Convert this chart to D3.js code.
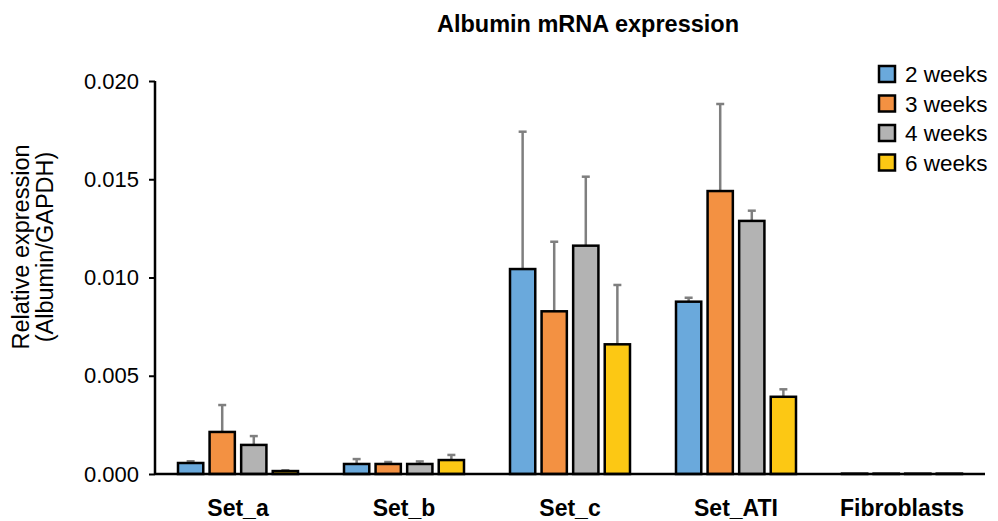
<!DOCTYPE html>
<html>
<head>
<meta charset="utf-8">
<script src="https://cdn.jsdelivr.net/npm/d3@7"></script>
<style>
  body { margin: 0; background: #fff; }
  text { font-family: "Liberation Sans", Arial, sans-serif; }
</style>
</head>
<body>
<svg id="chart" width="998" height="521"></svg>
<script>
// chart data
const groups = ['Set_a', 'Set_b', 'Set_c', 'Set_ATI', 'Fibroblasts']
const series = ['2 weeks', '3 weeks', '4 weeks', '6 weeks']
const colors = ['#6aa9dc', '#f39142', '#b3b3b3', '#fcc814']
const means = [
  [0.00056, 0.00214, 0.00148, 0.00015],
  [0.00051, 0.00051, 0.00051, 0.00071],
  [0.01043, 0.00828, 0.01162, 0.0066],
  [0.00877, 0.0144, 0.01288, 0.00393],
  [0.00002, 0.00002, 0.00002, 0.00002]
]
const errors = [
  [0.00009, 0.00137, 0.00045, 0.00004],
  [0.00025, 0.0001, 0.00013, 0.00026],
  [0.00699, 0.00354, 0.00351, 0.00302],
  [0.0002, 0.00443, 0.00052, 0.00038],
  [0, 0, 0, 0]
]
const yTicks = [0, 0.005, 0.01, 0.015, 0.02]

const svg = d3.select('#chart')
const mLeft = 155, mRight = 985, mTop = 81, mBottom = 474
const font = '"Liberation Sans", Arial, sans-serif'

const x0 = d3.scaleBand().domain(groups).range([mLeft, mRight])
const x1 = d3.scaleBand().domain(series).range([0, 120]).paddingInner(0.2)
const y = d3.scaleLinear().domain([0, 0.02]).range([mBottom, mTop])

// title
svg.append('text')
  .attr('x', 588).attr('y', 32)
  .attr('text-anchor', 'middle')
  .attr('font-size', 23.5).attr('font-weight', 'bold')
  .text('Albumin mRNA expression')

// y axis
const yAxis = svg.append('g')
  .attr('transform', `translate(${mLeft},0)`)
  .call(d3.axisLeft(y).tickValues(yTicks).tickFormat(d3.format('.3f')).tickSize(6).tickPadding(10))
yAxis.select('.domain').attr('stroke', '#000').attr('stroke-width', 2.5)
  .attr('d', `M0,${mTop}V${mBottom}`)
yAxis.selectAll('.tick line').attr('stroke', '#000').attr('stroke-width', 2)
yAxis.selectAll('.tick text').attr('font-size', 22).attr('fill', '#000')
  .attr('font-family', font)

// y label
const yl = svg.append('text')
  .attr('transform', 'translate(0,247) rotate(-90)')
  .attr('text-anchor', 'middle')
  .attr('font-size', 23.5)
yl.append('tspan').attr('x', 0).attr('y', 29).text('Relative expression')
yl.append('tspan').attr('x', 0).attr('y', 53).text('(Albumin/GAPDH)')

// bars
const gGroups = svg.selectAll('g.grp')
  .data(groups)
  .join('g')
  .attr('class', 'grp')
  .attr('transform', d => `translate(${x0(d) + (x0.bandwidth() - 120) / 2},0)`)

gGroups.each(function (g, gi) {
  const sel = d3.select(this)
  const rows = series.map((s, si) => ({ s, si, v: means[gi][si], e: errors[gi][si] }))

  // error bars (upper only)
  sel.selectAll('line.err')
    .data(rows.filter(r => r.e > 0))
    .join('line')
    .attr('class', 'err')
    .attr('x1', r => x1(r.s) + x1.bandwidth() / 2)
    .attr('x2', r => x1(r.s) + x1.bandwidth() / 2)
    .attr('y1', r => y(r.v))
    .attr('y2', r => y(r.v + r.e))
    .attr('stroke', '#7f7f7f').attr('stroke-width', 2.5)
  sel.selectAll('line.cap')
    .data(rows.filter(r => r.e > 0))
    .join('line')
    .attr('class', 'cap')
    .attr('x1', r => x1(r.s) + x1.bandwidth() / 2 - 4)
    .attr('x2', r => x1(r.s) + x1.bandwidth() / 2 + 4)
    .attr('y1', r => y(r.v + r.e))
    .attr('y2', r => y(r.v + r.e))
    .attr('stroke', '#7f7f7f').attr('stroke-width', 2.5)

  sel.selectAll('rect')
    .data(rows)
    .join('rect')
    .attr('x', r => x1(r.s))
    .attr('width', x1.bandwidth())
    .attr('y', r => y(r.v))
    .attr('height', r => mBottom - y(r.v))
    .attr('fill', r => colors[r.si])
    .attr('stroke', '#000').attr('stroke-width', 2.5)
})

// x axis
const xAxis = svg.append('g')
  .attr('transform', `translate(0,${mBottom})`)
  .call(d3.axisBottom(x0).tickSize(0).tickPadding(26))
xAxis.select('.domain').attr('stroke', '#000').attr('stroke-width', 2.5)
  .attr('d', `M${mLeft},0H${mRight}`)
xAxis.selectAll('.tick text').attr('font-size', 23).attr('font-weight', 'bold').attr('fill', '#000')
  .attr('font-family', font)

// legend
const lg = svg.append('g').attr('transform', 'translate(879,66)')
const items = lg.selectAll('g')
  .data(series)
  .join('g')
  .attr('transform', (d, i) => `translate(0,${i * 29.5})`)
items.append('rect')
  .attr('width', 16).attr('height', 16)
  .attr('fill', (d, i) => colors[i])
  .attr('stroke', '#000').attr('stroke-width', 2.5)
items.append('text')
  .attr('x', 26).attr('y', 16)
  .attr('font-size', 22.5)
  .text(d => d)
</script>
</body>
</html>
